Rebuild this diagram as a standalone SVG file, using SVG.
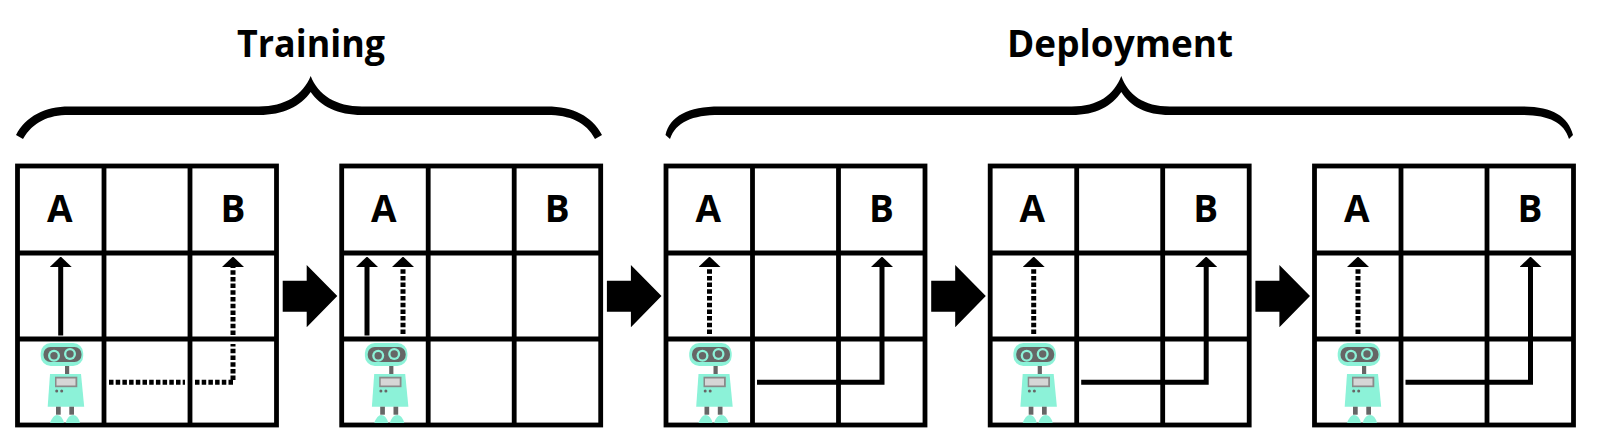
<svg xmlns="http://www.w3.org/2000/svg" xmlns:xlink="http://www.w3.org/1999/xlink" width="1600" height="443" viewBox="0 0 1600 443">
<style>
.t{font-family:"Open Sans","Noto Sans","Liberation Sans",sans-serif;font-weight:700;fill:#000;text-anchor:middle}
.h{font-size:38px}.l{font-size:37px}
.g{fill:none;stroke:#000;stroke-width:4.800}
.c{fill:none;stroke:#000;stroke-width:5}
.a{marker-end:url(#head)}
.d{stroke-dasharray:4.500 2.200}
.m{fill:#8cf2d8}.s{fill:#666}
</style>
<defs>
<marker id="head" markerUnits="userSpaceOnUse" viewBox="0 -11 10.500 22" refX="0" refY="0" markerWidth="10.500" markerHeight="22" orient="auto"><path d="M0 -11L10.500 0L0 11Z"/></marker>
<g id="robot">
<rect class="m" x="40.700" y="343" width="42.500" height="23" rx="10"/>
<rect class="s" x="43.500" y="347" width="38" height="15" rx="7"/>
<circle class="m" cx="54" cy="355.700" r="6"/><circle class="s" cx="54" cy="355.700" r="3.700"/>
<circle class="m" cx="70" cy="354" r="6"/><circle class="s" cx="70" cy="354" r="3.700"/>
<rect class="s" x="65" y="366" width="4.200" height="8"/>
<path class="m" d="M50 374H81L84.200 406.700H47.700Z"/>
<rect x="55" y="376.700" width="22.300" height="10.500" fill="#8a8a8a"/>
<rect x="56.500" y="378.500" width="19" height="7" fill="#d6d6d6"/>
<circle class="s" cx="56.700" cy="391" r="1.500"/><circle class="s" cx="61.700" cy="391" r="1.500"/>
<rect class="s" x="56" y="406.700" width="4.700" height="8"/><rect class="s" x="69.300" y="406.700" width="4.700" height="8"/>
<path class="m" d="M50 423Q53 415 57 415Q62 415 64 423Z"/><path class="m" d="M65.700 423Q68 415 73 415Q78 415 80 423Z"/>
</g>
<g id="grid">
<rect class="g" x="17.500" y="166" width="259" height="259"/>
<path class="g" d="M104 166V425M190 166V425M17.500 253H276.500M17.500 339H276.500"/>
<text class="t l" x="59.700" y="221.700">A</text>
<text class="t l" x="233" y="221.700">B</text>
<use xlink:href="#robot" href="#robot"/>
</g>
<g id="deploy-paths">
<path class="c d a" d="M61 334V267"/>
<path class="c a" d="M108.500 382.300H233.500V267"/>
</g>
<path id="block" d="M282.700 280.700H306.700V265L337.300 296L306.700 327.300V311.700H282.700Z"/>
</defs>
<g id="training">
<text class="t h" x="311" y="56.500" textLength="148" lengthAdjust="spacingAndGlyphs">Training</text>
<path d="M16 135C26 116 45 106.500 69 106.500H259C285 106.500 303 95 310.700 76C318 95 336 106.500 362 106.500H547C573 106.500 592 116 602 135L595 139C586 122 570 115 547 115H362C338 115 320 106 310.700 92C301 106 283 115 259 115H69C48 115 33 122 23 139Z"/>
</g>
<g id="deployment">
<text class="t h" x="1120" y="56.500" textLength="226" lengthAdjust="spacingAndGlyphs">Deployment</text>
<path d="M665.500 135C670 116 688 106.500 719.600 106.500H1071.700C1098 106.500 1114 95 1121.300 76C1128 95 1144 106.500 1169.700 106.500H1521.800C1552 106.500 1568 116 1573 135L1569 139C1564 122 1548 115 1521.800 115H1169.700C1146 115 1130 106 1121.300 92C1112 106 1096 115 1071.700 115H719.600C692 115 676 122 670 139Z"/>
</g>
<g id="panel-1"><use xlink:href="#grid" href="#grid"/></g>
<g id="panel-2"><use xlink:href="#grid" href="#grid" transform="translate(324.200 0)"/></g>
<g id="panel-3"><use xlink:href="#grid" href="#grid" transform="translate(648.500 0)"/></g>
<g id="panel-4"><use xlink:href="#grid" href="#grid" transform="translate(972.700 0)"/></g>
<g id="panel-5"><use xlink:href="#grid" href="#grid" transform="translate(1297 0)"/></g>
<g id="connectors">
<path class="c a" d="M60.700 335.500V267"/>
<path class="c d" d="M109 382.300H185M195 382.300H233V344"/>
<path class="c d a" d="M233 335V267"/>
<path class="c a" d="M367 335.500V267"/>
<path class="c d a" d="M403 334V267"/>
<use xlink:href="#deploy-paths" href="#deploy-paths" transform="translate(648.500 0)"/>
<use xlink:href="#deploy-paths" href="#deploy-paths" transform="translate(972.700 0)"/>
<use xlink:href="#deploy-paths" href="#deploy-paths" transform="translate(1297 0)"/>
</g>
<g id="flow">
<use xlink:href="#block" href="#block"/>
<use xlink:href="#block" href="#block" x="324.200"/>
<use xlink:href="#block" href="#block" x="648.500"/>
<use xlink:href="#block" href="#block" x="972.700"/>
</g>
</svg>
